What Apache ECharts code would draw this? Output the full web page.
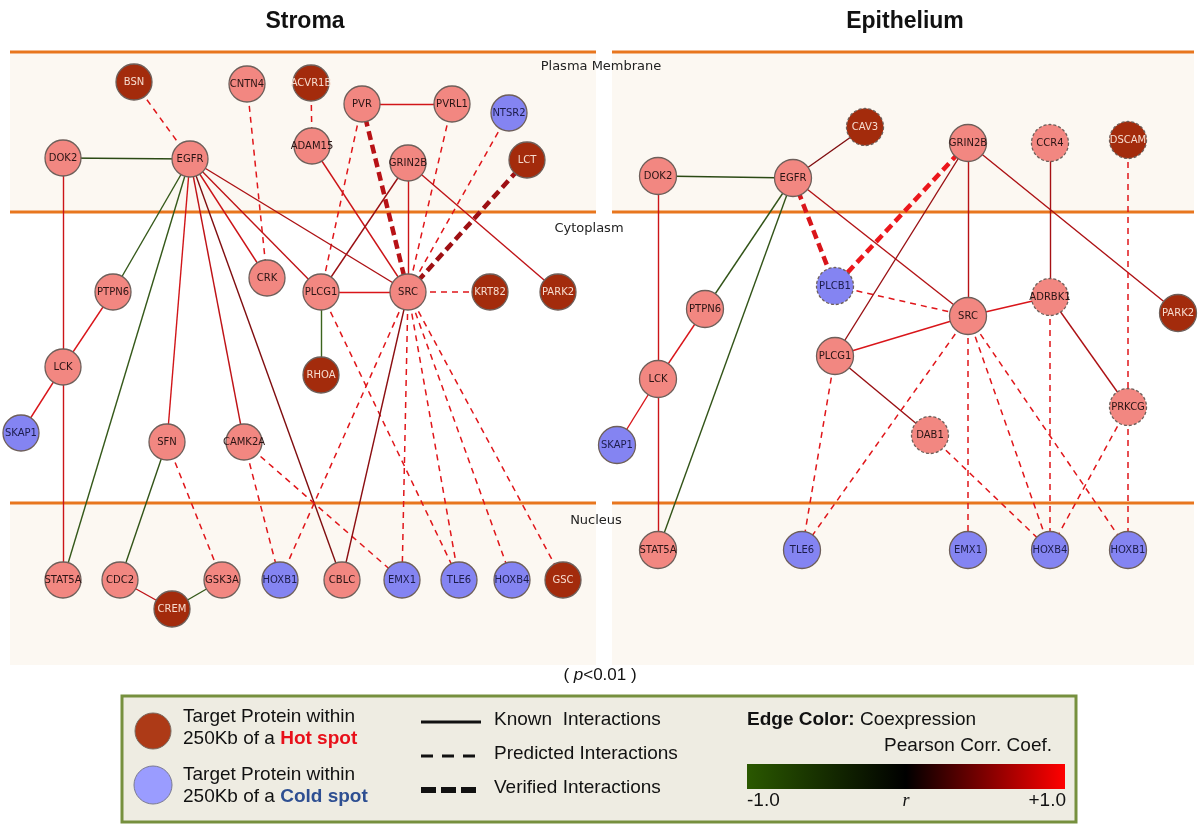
<!DOCTYPE html>
<html><head><meta charset="utf-8">
<script src="https://cdn.jsdelivr.net/npm/echarts@6/dist/echarts.min.js"></script>
<style>html,body{margin:0;padding:0;background:#fff}#c{width:1200px;height:830px}</style>
</head><body><div id="c"></div>
<script>
// ---------- DATA ----------
// node: [name, x, y, class, dashedBorder]
const stromaNodes = [
 ['BSN',134,82,'hot'],['CNTN4',247,84,'mid'],['ACVR1B',311,83,'hot'],
 ['PVR',362,104,'mid'],['PVRL1',452,104,'mid'],['NTSR2',509,113,'cold'],
 ['ADAM15',312,146,'mid'],['GRIN2B',408,163,'mid'],['LCT',527,160,'hot'],
 ['DOK2',63,158,'mid'],['EGFR',190,159,'mid'],['CRK',267,278,'mid'],
 ['PLCG1',321,292,'mid'],['SRC',408,292,'mid'],['KRT82',490,292,'hot'],
 ['PARK2',558,292,'hot'],['PTPN6',113,292,'mid'],['LCK',63,367,'mid'],
 ['RHOA',321,375,'hot'],['SKAP1',21,433,'cold'],['SFN',167,442,'mid'],
 ['CAMK2A',244,442,'mid'],['STAT5A',63,580,'mid'],['CDC2',120,580,'mid'],
 ['GSK3A',222,580,'mid'],['CREM',172,609,'hot'],['HOXB1',280,580,'cold'],
 ['CBLC',342,580,'mid'],['EMX1',402,580,'cold'],['TLE6',459,580,'cold'],
 ['HOXB4',512,580,'cold'],['GSC',563,580,'hot']
];
// edge: [source, target, kind, r]
const stromaEdges = [
 ['BSN','EGFR','pred',0.88],['CNTN4','CRK','pred',0.88],['ACVR1B','ADAM15','pred',0.88],
 ['PVR','PVRL1','known',0.82],['PVR','SRC','verif',0.72],['PVR','PLCG1','pred',0.88],
 ['PVRL1','SRC','pred',0.88],['NTSR2','SRC','pred',0.88],['LCT','SRC','verif',0.62],
 ['ADAM15','SRC','known',0.8],['GRIN2B','PLCG1','known',0.6],['GRIN2B','SRC','known',0.8],
 ['GRIN2B','PARK2','known',0.75],['DOK2','EGFR','known',-0.7],['DOK2','LCK','known',0.8],
 ['EGFR','PTPN6','known',-0.85],['EGFR','STAT5A','known',-0.85],['EGFR','SFN','known',0.82],
 ['EGFR','CAMK2A','known',0.75],['EGFR','CBLC','known',0.5],['EGFR','CRK','known',0.8],
 ['EGFR','PLCG1','known',0.75],['EGFR','SRC','known',0.68],['PTPN6','LCK','known',0.85],
 ['LCK','SKAP1','known',0.85],['LCK','STAT5A','known',0.8],['SFN','CDC2','known',-0.8],
 ['SFN','GSK3A','pred',0.88],['CDC2','CREM','known',0.75],['GSK3A','CREM','known',-0.85],
 ['CAMK2A','HOXB1','pred',0.88],['CAMK2A','EMX1','pred',0.88],['PLCG1','SRC','known',0.85],
 ['PLCG1','RHOA','known',-0.95],['PLCG1','TLE6','pred',0.88],['SRC','KRT82','pred',0.88],
 ['SRC','HOXB1','pred',0.88],['SRC','CBLC','known',0.55],['SRC','EMX1','pred',0.88],
 ['SRC','TLE6','pred',0.88],['SRC','HOXB4','pred',0.88],['SRC','GSC','pred',0.88]
];
const epiNodes = [
 ['CAV3',865,127,'hot',1],['GRIN2B',968,143,'mid'],['CCR4',1050,143,'mid',1],
 ['DSCAM',1128,140,'hot',1],['DOK2',658,176,'mid'],['EGFR',793,178,'mid'],
 ['PLCB1',835,286,'cold',1],['ADRBK1',1050,297,'mid',1],['SRC',968,316,'mid'],
 ['PARK2',1178,313,'hot'],['PTPN6',705,309,'mid'],['PLCG1',835,356,'mid'],
 ['LCK',658,379,'mid'],['PRKCG',1128,407,'mid',1],['DAB1',930,435,'mid',1],
 ['SKAP1',617,445,'cold'],['STAT5A',658,550,'mid'],['TLE6',802,550,'cold'],
 ['EMX1',968,550,'cold'],['HOXB4',1050,550,'cold'],['HOXB1',1128,550,'cold']
];
const epiEdges = [
 ['DOK2','EGFR','known',-0.7],['DOK2','LCK','known',0.8],['LCK','STAT5A','known',0.8],
 ['EGFR','CAV3','known',0.5],['EGFR','PTPN6','known',-0.8],['EGFR','STAT5A','known',-0.8],
 ['EGFR','PLCB1','verif',0.85],['EGFR','SRC','known',0.7],['GRIN2B','PLCB1','verif',0.92],
 ['GRIN2B','PLCG1','known',0.6],['GRIN2B','SRC','known',0.72],['GRIN2B','PARK2','known',0.68],
 ['CCR4','ADRBK1','known',0.65],['DSCAM','PRKCG','pred',0.88],['PTPN6','LCK','known',0.85],
 ['LCK','SKAP1','known',0.85],['PLCB1','SRC','pred',0.88],['PLCG1','SRC','known',0.85],
 ['PLCG1','DAB1','known',0.6],['PLCG1','TLE6','pred',0.88],['SRC','ADRBK1','known',0.85],
 ['SRC','TLE6','pred',0.88],['SRC','EMX1','pred',0.88],['SRC','HOXB4','pred',0.88],
 ['SRC','HOXB1','pred',0.88],['ADRBK1','HOXB4','pred',0.88],['ADRBK1','PRKCG','known',0.68],
 ['DAB1','HOXB4','pred',0.88],['PRKCG','HOXB4','pred',0.88],['PRKCG','HOXB1','pred',0.88]
];
const panelTitles = ['Stroma','Epithelium'];
const compartments = ['Plasma Membrane','Cytoplasm','Nucleus'];

// ---------- STYLES ----------
const nodeFill = {hot:'#a32b0c', mid:'#f28781', cold:'#8484f2'};
const nodeText = {hot:'#f6dccf', mid:'#2a1414', cold:'#1c1c4a'};
function rColor(r){
  if (r >= 0) return 'rgb(' + Math.round(255*r) + ',' + Math.round(25*r) + ',' + Math.round(30*r) + ')';
  const a = -r;
  return 'rgb(' + Math.round(62*a) + ',' + Math.round(105*a) + ',' + Math.round(30*a) + ')';
}
const kindStyle = {
  known:{width:1.4, type:'solid'},
  pred:{width:1.5, type:[6,5]},
  verif:{width:4.5, type:[9,5]}
};
function buildSeries(nodes, edges, size){
  return {
    type:'graph', coordinateSystem:'cartesian2d', layout:'none', roam:false,
    symbol:'circle', symbolSize:size, edgeSymbol:['none','none'],
    silent:true, animation:false, z:5,
    emphasis:{disabled:true},
    data: nodes.map(n => ({
      name:n[0], value:[n[1], n[2]],
      itemStyle:{color:nodeFill[n[3]], borderColor:'#6e5f5a', borderWidth:1.3,
                 borderType: n[4] ? [3,2] : 'solid'},
      label:{show:true, position:'inside', color:nodeText[n[3]], fontSize:10,
             fontFamily:'DejaVu Sans', formatter:'{b}'}
    })),
    links: edges.map(e => ({
      source:e[0], target:e[1],
      lineStyle:{color:rColor(e[3]), width:kindStyle[e[2]].width, type:kindStyle[e[2]].type, opacity:1, curveness:0}
    }))
  };
}

// ---------- DECOR ----------
const orange = '#e8761e';
const bands = [];
[[10,596],[612,1194]].forEach(p => {
  bands.push({type:'rect', shape:{x:p[0], y:52, width:p[1]-p[0], height:160}, style:{fill:'#fcf8f2'}, z:0, silent:true});
  bands.push({type:'rect', shape:{x:p[0], y:503, width:p[1]-p[0], height:162}, style:{fill:'#fcf8f2'}, z:0, silent:true});
  [52,212,503].forEach(y => bands.push({type:'line', shape:{x1:p[0], y1:y, x2:p[1], y2:y}, style:{stroke:orange, lineWidth:3}, z:1, silent:true}));
});
const texts = [
  {type:'text', x:305, y:22, style:{text:panelTitles[0], font:'bold 23px "Liberation Sans", Arial', fill:'#111', textAlign:'center', textVerticalAlign:'middle'}},
  {type:'text', x:905, y:22, style:{text:panelTitles[1], font:'bold 23px "Liberation Sans", Arial', fill:'#111', textAlign:'center', textVerticalAlign:'middle'}},
  {type:'text', x:601, y:67, style:{text:compartments[0], font:'13px "DejaVu Sans"', fill:'#222', textAlign:'center', textVerticalAlign:'middle'}, z:20},
  {type:'text', x:589, y:229, style:{text:compartments[1], font:'13px "DejaVu Sans"', fill:'#222', textAlign:'center', textVerticalAlign:'middle'}, z:20},
  {type:'text', x:596, y:521, style:{text:compartments[2], font:'13px "DejaVu Sans"', fill:'#222', textAlign:'center', textVerticalAlign:'middle'}, z:20},
  {type:'text', x:600, y:675, style:{text:'( {i|p}<0.01 )', rich:{i:{font:'italic 17px "Liberation Sans", Arial', fill:'#111'}}, font:'17px "Liberation Sans", Arial', fill:'#111', textAlign:'center', textVerticalAlign:'middle'}}
];
const LF = '19px "Liberation Sans", Arial';
const LB = 'bold 19px "Liberation Sans", Arial';
const legend = [
  {type:'rect', shape:{x:122, y:696, width:954, height:126}, style:{fill:'#eeece2', stroke:'#76903e', lineWidth:3}, z:10},
  {type:'circle', shape:{cx:153, cy:731, r:18}, style:{fill:'#ad3a17', stroke:'#7a6a60', lineWidth:1}, z:11},
  {type:'circle', shape:{cx:153, cy:785, r:19}, style:{fill:'#9a9cff', stroke:'#7a7a90', lineWidth:1}, z:11},
  {type:'text', x:183, y:717, style:{text:'Target Protein within', font:LF, fill:'#111', textVerticalAlign:'middle'}, z:11},
  {type:'text', x:183, y:739, style:{text:'250Kb of a {h|Hot spot}', rich:{h:{font:LB, fill:'#e8101a'}}, font:LF, fill:'#111', textVerticalAlign:'middle'}, z:11},
  {type:'text', x:183, y:775, style:{text:'Target Protein within', font:LF, fill:'#111', textVerticalAlign:'middle'}, z:11},
  {type:'text', x:183, y:797, style:{text:'250Kb of a {c|Cold spot}', rich:{c:{font:LB, fill:'#2e4f92'}}, font:LF, fill:'#111', textVerticalAlign:'middle'}, z:11},
  {type:'line', shape:{x1:421, y1:722, x2:481, y2:722}, style:{stroke:'#111', lineWidth:3}, z:11},
  {type:'line', shape:{x1:421, y1:756, x2:481, y2:756}, style:{stroke:'#111', lineWidth:3, lineDash:[12,9]}, z:11},
  {type:'line', shape:{x1:421, y1:790, x2:481, y2:790}, style:{stroke:'#111', lineWidth:6, lineDash:[15,5]}, z:11},
  {type:'text', x:494, y:720, style:{text:'Known  Interactions', font:LF, fill:'#111', textVerticalAlign:'middle'}, z:11},
  {type:'text', x:494, y:754, style:{text:'Predicted Interactions', font:LF, fill:'#111', textVerticalAlign:'middle'}, z:11},
  {type:'text', x:494, y:788, style:{text:'Verified Interactions', font:LF, fill:'#111', textVerticalAlign:'middle'}, z:11},
  {type:'text', x:747, y:720, style:{text:'{b|Edge Color:} Coexpression', rich:{b:{font:LB, fill:'#111'}}, font:LF, fill:'#111', textVerticalAlign:'middle'}, z:11},
  {type:'text', x:1052, y:746, style:{text:'Pearson Corr. Coef.', font:LF, fill:'#111', textAlign:'right', textVerticalAlign:'middle'}, z:11},
  {type:'rect', shape:{x:747, y:764, width:318, height:25}, style:{fill:new echarts.graphic.LinearGradient(0,0,1,0,[
     {offset:0,color:'#2a5800'},{offset:0.5,color:'#000000'},{offset:1,color:'#ff0000'}])}, z:11},
  {type:'text', x:747, y:801, style:{text:'-1.0', font:LF, fill:'#111', textVerticalAlign:'middle'}, z:11},
  {type:'text', x:906, y:801, style:{text:'r', font:'italic 18px "Liberation Serif", serif', fill:'#111', textAlign:'center', textVerticalAlign:'middle'}, z:11},
  {type:'text', x:1066, y:801, style:{text:'+1.0', font:LF, fill:'#111', textAlign:'right', textVerticalAlign:'middle'}, z:11}
];

const chart = echarts.init(document.getElementById('c'), null, {renderer:'canvas'});
chart.setOption({
  animation:false,
  backgroundColor:'#ffffff',
  grid:{left:0, right:0, top:0, bottom:0},
  xAxis:{type:'value', min:0, max:1200, show:false},
  yAxis:{type:'value', min:0, max:830, inverse:true, show:false},
  graphic: bands.concat(texts, legend),
  series:[buildSeries(stromaNodes, stromaEdges, 36), buildSeries(epiNodes, epiEdges, 37)]
});
</script></body></html>
